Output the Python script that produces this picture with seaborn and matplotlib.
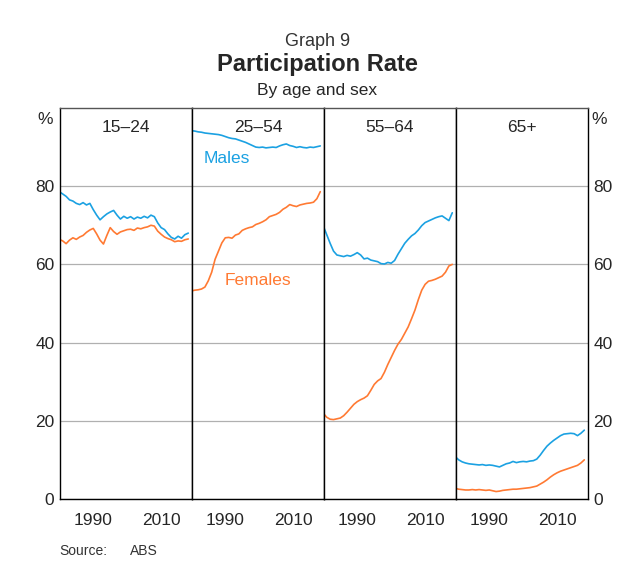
import pandas as pd
import numpy as np
import matplotlib
matplotlib.use('Agg')
import matplotlib.pyplot as plt
import seaborn as sns

years = list(range(1980, 2019))
groups = ['15–24', '25–54', '55–64', '65+']

males_15_24 = [78.6, 78.0, 77.4, 76.5, 76.2, 75.6, 75.3, 75.8, 75.2, 75.6,
               74.0, 72.6, 71.4, 72.2, 72.9, 73.4, 73.8, 72.6, 71.6, 72.3,
               71.8, 72.2, 71.6, 72.1, 71.8, 72.3, 71.9, 72.6, 72.2, 70.6,
               69.4, 68.9, 67.8, 66.9, 66.5, 67.2, 66.7, 67.6, 68.0]
females_15_24 = [66.4, 66.0, 65.3, 66.2, 66.8, 66.4, 67.0, 67.4, 68.2, 68.8,
                 69.2, 67.8, 66.2, 65.2, 67.4, 69.4, 68.4, 67.7, 68.3, 68.6,
                 68.9, 69.0, 68.7, 69.3, 69.1, 69.4, 69.6, 70.0, 69.8, 68.5,
                 67.7, 67.0, 66.6, 66.3, 65.8, 66.0, 65.9, 66.3, 66.5]
males_25_54 = [94.2, 94.1, 93.9, 93.8, 93.6, 93.5, 93.4, 93.3, 93.2, 93.0,
               92.7, 92.4, 92.2, 92.1, 91.8, 91.5, 91.2, 90.8, 90.4, 90.0,
               89.9, 90.0, 89.8, 89.9, 90.0, 89.9, 90.3, 90.6, 90.8, 90.4,
               90.2, 89.9, 90.1, 89.9, 89.8, 90.0, 89.9, 90.1, 90.3]
females_25_54 = [53.2, 53.4, 53.5, 53.7, 54.2, 55.8, 58.0, 61.3, 63.4, 65.5,
                 66.8, 66.9, 66.7, 67.5, 67.8, 68.7, 69.1, 69.4, 69.6, 70.2,
                 70.5, 70.9, 71.4, 72.2, 72.5, 72.8, 73.3, 74.1, 74.6, 75.3,
                 75.0, 74.8, 75.2, 75.4, 75.6, 75.7, 75.9, 76.8, 78.6]
males_55_64 = [69.8, 67.6, 65.4, 63.4, 62.4, 62.2, 62.0, 62.3, 62.1, 62.5,
               63.0, 62.4, 61.4, 61.6, 61.1, 60.9, 60.7, 60.2, 60.1, 60.5,
               60.3, 61.0, 62.6, 64.0, 65.4, 66.4, 67.3, 67.9, 68.8, 69.9,
               70.7, 71.1, 71.5, 71.9, 72.2, 72.4, 71.8, 71.2, 73.2]
females_55_64 = [21.9, 20.9, 20.4, 20.3, 20.5, 20.7, 21.3, 22.2, 23.2, 24.2,
                 24.9, 25.4, 25.8, 26.4, 27.8, 29.3, 30.2, 30.8, 32.4, 34.4,
                 36.2, 38.0, 39.6, 40.8, 42.4, 44.0, 46.1, 48.3, 51.0, 53.4,
                 54.9, 55.7, 55.9, 56.2, 56.6, 57.0, 58.0, 59.6, 60.0]
males_65 = [10.8, 10.0, 9.5, 9.2, 9.0, 8.9, 8.8, 8.7, 8.8, 8.6,
            8.7, 8.6, 8.4, 8.2, 8.6, 9.0, 9.2, 9.6, 9.3, 9.5,
            9.6, 9.5, 9.7, 9.8, 10.2, 11.2, 12.4, 13.5, 14.3, 15.0,
            15.6, 16.2, 16.6, 16.7, 16.8, 16.7, 16.2, 16.8, 17.6]
females_65 = [2.7, 2.5, 2.4, 2.3, 2.3, 2.4, 2.3, 2.4, 2.3, 2.2,
              2.3, 2.1, 1.9, 2.0, 2.2, 2.3, 2.4, 2.5, 2.5, 2.6,
              2.7, 2.8, 2.9, 3.1, 3.3, 3.8, 4.3, 4.9, 5.6, 6.2,
              6.7, 7.1, 7.4, 7.7, 8.0, 8.3, 8.6, 9.2, 10.0]

males = [males_15_24, males_25_54, males_55_64, males_65]
females = [females_15_24, females_25_54, females_55_64, females_65]

rows = []
for g, m, f in zip(groups, males, females):
    for y, vm, vf in zip(years, m, f):
        rows.append({'group': g, 'year': y, 'sex': 'Males', 'rate': vm})
        rows.append({'group': g, 'year': y, 'sex': 'Females', 'rate': vf})
d = pd.DataFrame(rows)

blue = '#1BA1E2'
orange = '#FF7A33'
pal = {'Males': blue, 'Females': orange}

sns.set_style('white')
plt.rcParams['font.family'] = ['Liberation Sans', 'DejaVu Sans']

fig, axes = plt.subplots(1, 4, figsize=(6.35, 5.8), dpi=100, sharey=True)
fig.subplots_adjust(left=0.0945, right=0.926, bottom=0.1397, top=0.8138, wspace=0)

for i, (ax, g) in enumerate(zip(axes, groups)):
    sns.lineplot(data=d[d.group == g], x='year', y='rate', hue='sex',
                 palette=pal, ax=ax, legend=False, linewidth=1.2)
    ax.set_xlim(1980.2, 2019.1)
    ax.set_ylim(0, 100)
    ax.set_yticks([0, 20, 40, 60, 80])
    ax.yaxis.grid(True, color='#b0b0b0', linewidth=0.9)
    ax.set_axisbelow(True)
    ax.set_xticks([1990, 2000, 2010])
    ax.set_xticklabels(['1990', '', '2010'])
    ax.tick_params(axis='x', direction='in', length=5, width=1, color='black',
                   labelsize=12.5, pad=10)
    ax.tick_params(axis='y', length=0, labelsize=12.5)
    ax.set_xlabel('')
    ax.set_ylabel('')
    for s in ['left', 'right', 'bottom']:
        ax.spines[s].set_color('black')
        ax.spines[s].set_linewidth(1)
    ax.spines['top'].set_color('#555555')
    ax.spines['top'].set_linewidth(1)
    ax.text(0.5, 0.95, g, transform=ax.transAxes, ha='center', va='center',
            fontsize=12.5)

axes[0].tick_params(axis='y', labelleft=True, pad=4)
axes[-1].tick_params(axis='y', labelright=True, pad=4)

axes[1].text(0.09, 0.87, 'Males', transform=axes[1].transAxes, color=blue,
             fontsize=12.5, ha='left', va='center')
axes[1].text(0.25, 0.56, 'Females', transform=axes[1].transAxes, color=orange,
             fontsize=12.5, ha='left', va='center')

fig.text(45 / 635, 1 - 119 / 580, '%', fontsize=12.5, ha='center', va='center')
fig.text(599 / 635, 1 - 119 / 580, '%', fontsize=12.5, ha='center', va='center')

fig.text(0.5, 1 - 42 / 580, 'Graph 9', fontsize=13, ha='center', va='center',
         color='#333333')
fig.text(0.5, 1 - 64 / 580, 'Participation Rate', fontsize=17, ha='center',
         va='center', fontweight='bold')
fig.text(0.5, 1 - 90 / 580, 'By age and sex', fontsize=12.5, ha='center',
         va='center')
fig.text(59 / 635, 1 - 551 / 580, 'Source:', fontsize=10, ha='left', va='center',
         color='#333333')
fig.text(130 / 635, 1 - 551 / 580, 'ABS', fontsize=10, ha='left', va='center',
         color='#333333')

plt.savefig('out.png', dpi=100)
plt.close()
